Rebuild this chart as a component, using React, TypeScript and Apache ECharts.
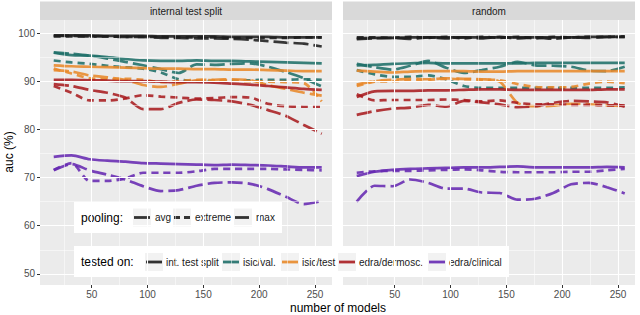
import React, { useEffect, useRef } from "react";
import * as echarts from "echarts";

const MODELS = [16, 32, 48, 64, 80, 96, 112, 128, 144, 160, 176, 192, 208, 224, 240, 256];
const PANELS = ["internal test split", "random"];
const X_TICKS = [50, 100, 150, 200, 250];
const Y_TICKS = [50, 60, 70, 80, 90, 100];
const X_MINOR = [25, 75, 125, 175, 225];
const Y_MINOR = [55, 65, 75, 85, 95];
const POOLING = ["avg", "extreme", "max"];
const TESTED_ON = ["int. test split", "isic/val.", "isic/test", "edra/dermosc.", "edra/clinical"];

// internal test split panel
const intAvgSplit = [99.5, 99.5, 99.5, 99.4, 99.4, 99.4, 99.3, 99.3, 99.3, 99.3, 99.2, 99.2, 99.2, 99.1, 99.1, 99.1];
const intExtSplit = [99.3, 99.3, 99.3, 99.3, 99.2, 99.2, 99.2, 99.1, 99.1, 99.1, 99.0, 99.0, 99.0, 99.0, 99.1, 99.1];
const intMaxSplit = [99.4, 99.4, 99.3, 99.3, 99.2, 99.2, 99.0, 99.0, 98.9, 98.9, 98.8, 98.6, 98.3, 98.0, 97.8, 97.2];
const valAvgSplit = [95.9, 95.4, 95.3, 95.0, 94.6, 94.3, 94.2, 94.2, 94.3, 94.2, 94.2, 94.1, 94.0, 93.9, 93.8, 93.7];
const valExtSplit = [94.3, 93.9, 93.6, 93.2, 92.9, 92.6, 91.8, 90.4, 90.0, 90.0, 90.1, 90.2, 90.3, 90.3, 90.4, 90.3];
const valMaxSplit = [96.0, 95.7, 95.3, 94.7, 94.0, 93.3, 92.5, 91.7, 93.5, 93.4, 93.6, 93.7, 93.0, 91.9, 90.6, 88.9];
const testAvgSplit = [93.3, 93.1, 93.0, 92.9, 92.8, 92.7, 92.6, 92.6, 92.5, 92.5, 92.4, 92.4, 92.3, 92.2, 92.1, 92.1];
const testExtSplit = [92.6, 91.6, 90.6, 90.4, 90.5, 90.3, 89.8, 90.0, 90.3, 90.2, 90.1, 90.0, 89.9, 89.8, 89.6, 85.8];
const testMaxSplit = [92.3, 92.0, 91.2, 90.8, 90.3, 89.2, 88.8, 89.5, 90.2, 90.3, 90.4, 90.2, 89.2, 88.4, 87.6, 87.0];
const derAvgSplit = [90.3, 90.3, 90.2, 90.1, 90.0, 90.0, 89.9, 89.8, 89.8, 89.7, 89.5, 89.3, 89.0, 88.7, 88.4, 88.2];
const derExtSplit = [89.0, 87.6, 86.0, 86.0, 86.4, 87.1, 86.8, 86.6, 86.4, 86.5, 86.7, 86.6, 85.3, 84.8, 84.7, 84.7];
const derMaxSplit = [89.4, 89.0, 88.2, 87.6, 86.6, 84.2, 84.2, 85.5, 86.2, 86.1, 85.8, 85.1, 84.0, 82.8, 80.9, 79.1];
const cliAvgSplit = [74.3, 74.6, 73.8, 73.5, 73.3, 73.0, 72.9, 72.8, 72.7, 72.6, 72.7, 72.6, 72.5, 72.3, 72.1, 72.1];
const cliExtSplit = [71.6, 73.0, 69.3, 69.3, 69.8, 71.0, 71.0, 71.0, 71.3, 71.8, 71.8, 71.8, 71.8, 71.7, 71.6, 71.5];
const cliMaxSplit = [71.5, 72.8, 71.5, 70.6, 69.6, 68.2, 67.2, 67.4, 68.3, 68.9, 69.0, 68.7, 67.6, 66.0, 64.5, 65.1];

// random panel
const intAvgRand = [98.9, 99.0, 99.0, 99.1, 99.1, 99.1, 99.1, 99.1, 99.1, 99.1, 99.1, 99.1, 99.1, 99.2, 99.2, 99.2];
const intExtRand = [99.1, 99.1, 99.0, 99.2, 99.0, 99.2, 98.9, 99.2, 99.0, 99.2, 98.9, 99.2, 99.1, 99.2, 99.2, 99.3];
const intMaxRand = [98.7, 98.9, 99.0, 98.8, 99.1, 98.9, 99.1, 98.9, 99.2, 98.9, 99.1, 98.8, 99.1, 99.0, 99.2, 99.2];
const valAvgRand = [93.3, 93.4, 93.6, 93.7, 93.8, 93.7, 93.7, 93.7, 93.7, 93.7, 93.8, 93.8, 93.8, 93.8, 93.8, 93.8];
const valExtRand = [92.3, 91.4, 90.9, 90.9, 91.2, 90.4, 89.0, 88.6, 88.6, 88.6, 88.6, 88.6, 88.6, 88.6, 88.6, 88.7];
const valMaxRand = [93.6, 92.9, 92.4, 93.2, 94.2, 92.8, 91.7, 92.3, 93.0, 94.0, 93.3, 93.2, 93.0, 92.2, 92.1, 93.0];
const testAvgRand = [92.2, 92.0, 91.8, 92.0, 92.1, 92.1, 92.1, 92.0, 92.0, 92.1, 92.1, 92.1, 92.1, 92.1, 92.1, 92.1];
const testExtRand = [89.0, 89.9, 90.0, 90.2, 90.3, 90.5, 90.4, 90.3, 90.2, 89.4, 88.8, 88.7, 88.8, 89.5, 89.9, 89.6];
const testMaxRand = [89.3, 90.0, 90.3, 90.5, 90.4, 90.6, 90.5, 90.4, 89.9, 85.5, 84.8, 84.9, 85.3, 85.2, 85.0, 84.8];
const derAvgRand = [86.7, 87.9, 88.0, 88.0, 88.1, 88.1, 88.2, 88.3, 88.3, 88.2, 88.2, 88.2, 88.2, 88.2, 88.3, 88.3];
const derExtRand = [87.3, 86.0, 86.1, 86.1, 86.1, 86.2, 86.1, 85.8, 86.0, 85.5, 85.2, 85.2, 85.1, 85.1, 85.0, 85.0];
const derMaxRand = [83.0, 83.8, 84.3, 84.5, 85.1, 84.7, 85.9, 85.6, 85.2, 84.6, 84.8, 85.5, 85.9, 85.8, 85.6, 84.7];
const cliAvgRand = [70.3, 71.2, 71.6, 71.8, 71.9, 72.0, 72.1, 72.1, 72.2, 72.3, 72.1, 72.1, 72.1, 72.1, 72.2, 72.1];
const cliExtRand = [71.0, 71.3, 71.4, 71.4, 71.5, 71.6, 71.7, 71.5, 71.2, 71.1, 71.1, 71.1, 71.2, 71.2, 71.5, 71.8];
const cliMaxRand = [65.0, 68.3, 68.2, 69.6, 68.9, 67.7, 67.7, 66.9, 66.8, 65.4, 65.6, 66.8, 68.6, 68.9, 68.0, 66.7];

const COLORS = ["#1c1c1c", "#1f6f69", "#e8892a", "#a81c20", "#6629b2"];
const DASHES: any[] = ["solid", [7, 5], [15, 5]];
const FONT = "Liberation Sans, Arial, sans-serif";

const PANEL_DATA = [
  [
    [intAvgSplit, intExtSplit, intMaxSplit],
    [valAvgSplit, valExtSplit, valMaxSplit],
    [testAvgSplit, testExtSplit, testMaxSplit],
    [derAvgSplit, derExtSplit, derMaxSplit],
    [cliAvgSplit, cliExtSplit, cliMaxSplit],
  ],
  [
    [intAvgRand, intExtRand, intMaxRand],
    [valAvgRand, valExtRand, valMaxRand],
    [testAvgRand, testExtRand, testMaxRand],
    [derAvgRand, derExtRand, derMaxRand],
    [cliAvgRand, cliExtRand, cliMaxRand],
  ],
];

const GRID_LEFT = [40, 343];
const GRID_W = 292;
const GRID_TOP = 20;
const GRID_H = 265;

function buildOption() {
  const grids = GRID_LEFT.map((l) => ({
    left: l,
    top: GRID_TOP,
    width: GRID_W,
    height: GRID_H,
    show: true,
    backgroundColor: "#EBEBEB",
    borderWidth: 0,
    containLabel: false,
  }));
  const xAxes = GRID_LEFT.map((_, i) => ({
    type: "value",
    gridIndex: i,
    min: 3.7,
    max: 265.2,
    axisLine: { show: false },
    axisTick: { show: true, length: 3, lineStyle: { color: "#333", width: 1 }, customValues: X_TICKS },
    axisLabel: { customValues: X_TICKS, color: "#4D4D4D", fontSize: 10, margin: 4, fontFamily: FONT },
    splitLine: { show: false },
  }));
  const yAxes = GRID_LEFT.map((_, i) => ({
    type: "value",
    gridIndex: i,
    min: 47.7,
    max: 102.7,
    axisLine: { show: false },
    axisTick: { show: i === 0, length: 3, lineStyle: { color: "#333", width: 1 }, customValues: Y_TICKS },
    axisLabel: { show: i === 0, customValues: Y_TICKS, color: "#4D4D4D", fontSize: 10, margin: 5, fontFamily: FONT },
    splitLine: { show: false },
  }));

  const series: any[] = [];
  GRID_LEFT.forEach((_, p) => {
    const major = { color: "#ffffff", width: 1.1, type: "solid" };
    const minor = { color: "#ffffff", width: 0.5, type: "solid" };
    series.push({
      type: "line",
      xAxisIndex: p,
      yAxisIndex: p,
      z: 1,
      data: [[MODELS[0], PANEL_DATA[p][0][0][0]]],
      showSymbol: false,
      lineStyle: { opacity: 0 },
      silent: true,
      markLine: {
        silent: true,
        symbol: ["none", "none"],
        label: { show: false },
        animation: false,
        data: [
          ...X_MINOR.map((v) => ({ xAxis: v, lineStyle: minor })),
          ...Y_MINOR.map((v) => ({ yAxis: v, lineStyle: minor })),
          ...X_TICKS.map((v) => ({ xAxis: v, lineStyle: major })),
          ...Y_TICKS.map((v) => ({ yAxis: v, lineStyle: major })),
        ],
      },
    });
    PANEL_DATA[p].forEach((group, g) => {
      group.forEach((vals, k) => {
        series.push({
          type: "line",
          name: TESTED_ON[g] + " / " + POOLING[k],
          xAxisIndex: p,
          yAxisIndex: p,
          z: 2,
          showSymbol: false,
          smooth: 0.25,
          silent: true,
          data: MODELS.map((m, i) => [m, vals[i]]),
          lineStyle: { color: COLORS[g], width: 2.7, type: DASHES[k], opacity: 0.88, cap: "butt" },
        });
      });
    });
  });

  const graphics: any[] = [];
  GRID_LEFT.forEach((l, p) => {
    graphics.push({ type: "rect", shape: { x: l, y: 1.5, width: GRID_W, height: 18.5 }, style: { fill: "#D9D9D9" } });
    graphics.push({
      type: "text",
      x: l + GRID_W / 2,
      y: 11,
      style: { text: PANELS[p], fill: "#1A1A1A", fontSize: 10, fontFamily: FONT, align: "center", verticalAlign: "middle" },
    });
  });
  graphics.push({
    type: "text",
    x: 338,
    y: 308,
    style: { text: "number of models", fill: "#000", fontSize: 12, fontFamily: FONT, align: "center", verticalAlign: "middle" },
  });
  graphics.push({
    type: "text",
    x: 9,
    y: 152,
    rotation: Math.PI / 2,
    style: { text: "auc (%)", fill: "#000", fontSize: 12, fontFamily: FONT, align: "center", verticalAlign: "middle" },
  });

  const poolY = 217.5;
  graphics.push({ type: "rect", shape: { x: 74, y: 202, width: 208, height: 31 }, style: { fill: "#ffffff" } });
  graphics.push({
    type: "text",
    x: 81,
    y: poolY,
    style: { text: "pooling:", fill: "#000", fontSize: 12, fontFamily: FONT, verticalAlign: "middle" },
  });
  const poolKeys = [133, 173, 234];
  poolKeys.forEach((kx, k) => {
    graphics.push({ type: "rect", shape: { x: kx, y: poolY - 9, width: 18, height: 18 }, style: { fill: "#F2F2F2" } });
    graphics.push({
      type: "line",
      shape: { x1: kx + 1, y1: poolY, x2: kx + 17, y2: poolY },
      style: { stroke: "#333", lineWidth: 2.8, lineDash: k === 0 ? null : k === 1 ? [6, 4] : [14, 5] },
    });
    graphics.push({
      type: "text",
      x: kx + 22,
      y: poolY,
      style: { text: POOLING[k], fill: "#1A1A1A", fontSize: 10, fontFamily: FONT, verticalAlign: "middle" },
    });
  });

  const tY = 262;
  graphics.push({ type: "rect", shape: { x: 74, y: 246, width: 435, height: 31 }, style: { fill: "#ffffff" } });
  graphics.push({
    type: "text",
    x: 81,
    y: tY,
    style: { text: "tested on:", fill: "#000", fontSize: 12, fontFamily: FONT, verticalAlign: "middle" },
  });
  const testKeys = [145, 222, 281, 338, 428];
  testKeys.forEach((kx, g) => {
    graphics.push({ type: "rect", shape: { x: kx, y: tY - 9, width: 18, height: 18 }, style: { fill: "#F2F2F2" } });
    graphics.push({
      type: "line",
      shape: { x1: kx + 1, y1: tY, x2: kx + 17, y2: tY },
      style: { stroke: COLORS[g], lineWidth: 2.8, opacity: 0.9 },
    });
    graphics.push({
      type: "text",
      x: kx + 21,
      y: tY,
      style: { text: TESTED_ON[g], fill: "#1A1A1A", fontSize: 10, fontFamily: FONT, verticalAlign: "middle" },
    });
  });

  return {
    animation: false,
    backgroundColor: "#ffffff",
    grid: grids,
    xAxis: xAxes,
    yAxis: yAxes,
    series,
    graphic: graphics,
  };
}

export default function App() {
  const ref = useRef<HTMLDivElement>(null);
  useEffect(() => {
    if (!ref.current) return;
    const chart = echarts.init(ref.current, null, { renderer: "svg" });
    chart.setOption(buildOption() as any);
    return () => chart.dispose();
  }, []);
  return <div ref={ref} style={{ position: "absolute", left: 0, top: 0, width: 640, height: 315 }} />;
}
